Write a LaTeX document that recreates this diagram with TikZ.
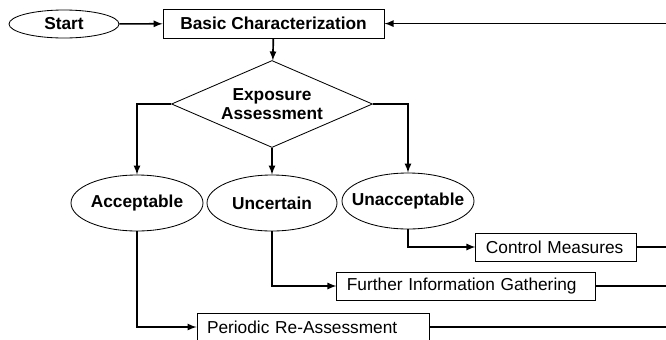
\documentclass[tikz,border=0pt]{standalone}
\usepackage{fontspec}
\setmainfont{Liberation Sans}
\usetikzlibrary{shapes.geometric}

\newcommand{\flowfont}{\fontsize{12.3}{14}\selectfont}

\tikzset{
  oval/.style={shape=ellipse,draw=black,line width=0.6pt,inner ysep=0pt,inner xsep=-0.3cm,font=\flowfont\bfseries},
  box/.style={shape=rectangle,draw=black,line width=0.6pt,minimum height=0.7cm,font=\flowfont},
  textbox/.style={box,inner xsep=0.25cm,align=left},
  decision/.style={shape=diamond,draw=black,line width=0.6pt,inner sep=0pt,shape aspect=2.3,align=center,font=\flowfont\bfseries},
  flow/.style={line width=1.2pt,->,>=latex},
  back/.style={line width=1.2pt}
}

\begin{document}
\begin{tikzpicture}
      \useasboundingbox (0,0) rectangle (16.65,-8.475);
      \clip (0,0) rectangle (16.65,-8.475);
      \coordinate (edge) at (16.65,0);

      \node[oval,minimum width=2.75cm,minimum height=0.7cm](start) at (1.6,-0.6) {Start};
      \node[box,font=\flowfont\bfseries,minimum width=5.525cm,minimum height=0.725cm](basic) at (6.84,-0.59) {Basic Characterization};
      \node[decision,minimum width=5.025cm,minimum height=2.175cm](expo) at (6.8,-2.6) {Exposure\\Assessment};

      \node[oval,minimum width=3.3cm,minimum height=1.4cm](accept) at (3.425,-5.075) {Acceptable};
      \node[oval,minimum width=3.25cm,minimum height=1.4cm](uncert) at (6.8,-5.075) {Uncertain};
      \node[oval,minimum width=3.3cm,minimum height=1.4cm](unacc) at (10.2,-5.025) {Unacceptable};

      \node[textbox,text width=3.525cm](control) at (13.91,-6.175) {Control Measures};
      \node[textbox,text width=5.975cm](further) at (11.66,-7.15) {Further Information Gathering};
      \node[textbox,text width=5.3cm](periodic) at (7.825,-8.175) {Periodic Re-Assessment};

      % main flow
      \draw[flow] (start) -- (basic);
      \draw[flow] (basic) -- (expo);
      \draw[flow] (expo.west) -| (accept.north);
      \draw[flow] (expo.south) -- (uncert.north);
      \draw[flow] (expo.east) -| (unacc.north);

      % outcomes
      \draw[flow] (unacc.south) |- (control.west);
      \draw[flow] (uncert.south) |- (further.west);
      \draw[flow] (accept.south) |- (periodic.west);

      % back to characterization
      \draw[flow] (basic.east -| edge) -- (basic.east);
      \draw[back] (control.east) -- (control.east -| edge);
      \draw[back] (further.east) -- (further.east -| edge);
      \draw[back] (periodic.east) -- (periodic.east -| edge);
\end{tikzpicture}
\end{document}
